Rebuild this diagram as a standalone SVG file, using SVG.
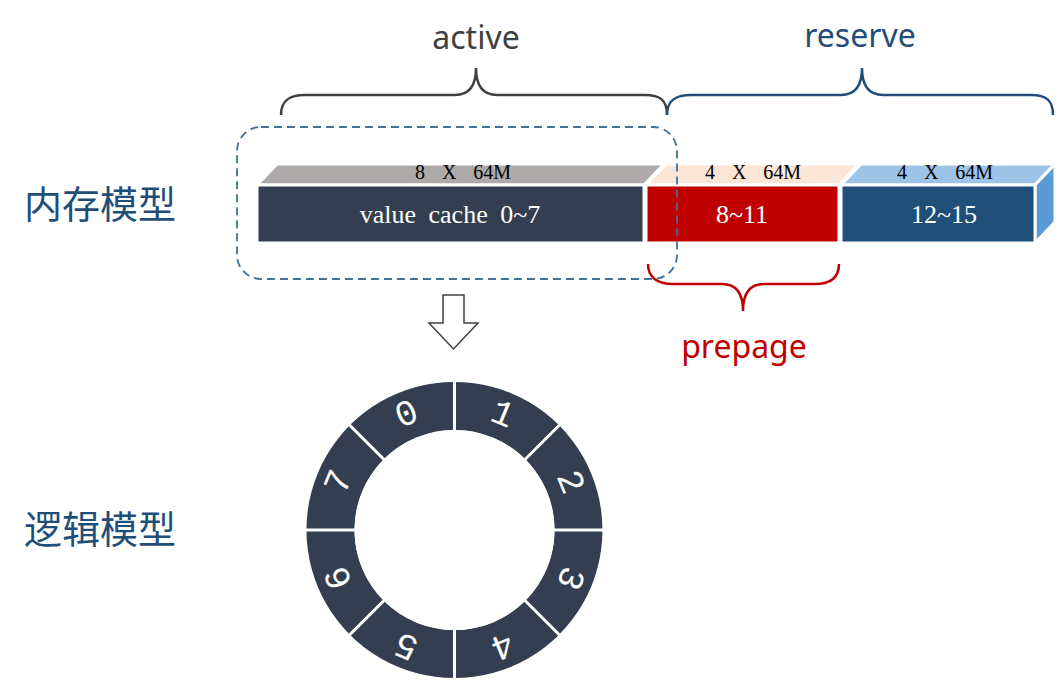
<svg xmlns="http://www.w3.org/2000/svg" width="1061" height="691" viewBox="0 0 1061 691">
<style>
.serif{font-family:"Liberation Serif","Times New Roman",serif}
.sans{font-family:"Noto Sans","Open Sans",sans-serif}
.cjk{font-family:"Noto Sans CJK SC","Noto Sans",sans-serif;font-size:38px;fill:#1F4E79}
.face{stroke:#fff;stroke-width:3}
.top{font-size:20px;fill:#000;text-anchor:middle;word-spacing:12px}
.front{font-size:26px;fill:#fff;text-anchor:middle;word-spacing:6px}
.brace{fill:none;stroke-width:2.5}
.dig{font-family:"Liberation Mono","DejaVu Sans Mono",monospace;font-size:36px;fill:#fff;text-anchor:middle;dominant-baseline:central}
</style>
<rect width="1061" height="691" fill="#fff"/>
<g id="label-memory"><text class="cjk" x="24" y="218">内存模型</text></g>
<g id="label-logic"><text class="cjk" x="24" y="543">逻辑模型</text></g>
<g id="block-active">
<polygon class="face" points="257,185 277,164 664,164 644,185" fill="#AEAAAA"/>
<rect class="face" x="257" y="185" width="387" height="58" fill="#333F50"/>
<text class="serif top" x="463" y="179">8 X 64M</text>
<text class="serif front" x="450" y="223">value cache 0~7</text>
</g>
<g id="block-prepage">
<polygon class="face" points="646,185 666,164 859,164 839,185" fill="#FBE5D6"/>
<rect class="face" x="646" y="185" width="193" height="58" fill="#C00000"/>
<text class="serif top" x="753" y="179">4 X 64M</text>
<text class="serif front" x="742" y="223">8~11</text>
</g>
<g id="block-reserve">
<polygon class="face" points="841,185 861,164 1055,164 1035,185" fill="#9DC3E6"/>
<polygon class="face" points="1035,185 1055,164 1055,222 1035,243" fill="#5B9BD5"/>
<rect class="face" x="841" y="185" width="194" height="58" fill="#1F4E79"/>
<text class="serif top" x="945" y="179">4 X 64M</text>
<text class="serif front" x="944" y="223">12~15</text>
</g>
<g id="active-group">
<rect x="237" y="127" width="440" height="152" rx="24" fill="none" stroke="#41719C" stroke-width="1.8" stroke-dasharray="8 5"/>
</g>
<g id="connectors">
<path class="brace" stroke="#404040" d="M281,115 C281,100 290,95 305,95 L455,95 C470,95 476,85 476,68 C476,85 482,95 497,95 L645,95 C660,95 667,100 667,115"/>
<path class="brace" stroke="#1F4E79" d="M667,115 C667,100 676,95 691,95 L841,95 C856,95 862,85 862,68 C862,85 868,95 883,95 L1031,95 C1046,95 1053,100 1053,115"/>
<path class="brace" stroke="#C00000" d="M648,264 C648,278 658,284 673,284 L722,284 C737,284 743,294 743,311 C743,294 749,284 764,284 L815,284 C830,284 839,278 839,264"/>
<polygon points="443,295 464,295 464,323 478,323 453.5,349 429,323 443,323" fill="#fff" stroke="#404040" stroke-width="1.5"/>
</g>
<g id="label-active"><text class="sans" x="476" y="49" font-size="32" fill="#404040" text-anchor="middle">active</text></g>
<g id="label-reserve"><text class="sans" x="860" y="47" font-size="32" fill="#1F4E79" text-anchor="middle">reserve</text></g>
<g id="label-prepage"><text class="sans" x="744" y="358" font-size="32" fill="#C00000" text-anchor="middle">prepage</text></g>
<g id="ring">
<path d="M454.5,382 A148,148 0 1 1 454.4,382 Z M454.5,430 A100,100 0 1 0 454.6,430 Z" fill="#333F50" fill-rule="evenodd"/>
<path d="M454.5,378 V682 M302.5,530 H606.5 M347,422.5 L562,637.5 M562,422.5 L347,637.5" stroke="#fff" stroke-width="3"/>
<circle cx="454.5" cy="530" r="100" fill="#fff"/>
<text class="dig" transform="translate(407,415.4) rotate(-22.5)">0</text>
<text class="dig" transform="translate(502,415.4) rotate(22.5)">1</text>
<text class="dig" transform="translate(569.1,482.5) rotate(67.5)">2</text>
<text class="dig" transform="translate(569.1,577.5) rotate(112.5)">3</text>
<text class="dig" transform="translate(502,644.6) rotate(157.5)">4</text>
<text class="dig" transform="translate(407,644.6) rotate(202.5)">5</text>
<text class="dig" transform="translate(339.9,577.5) rotate(247.5)">6</text>
<text class="dig" transform="translate(339.9,482.5) rotate(292.5)">7</text>
</g>
</svg>
